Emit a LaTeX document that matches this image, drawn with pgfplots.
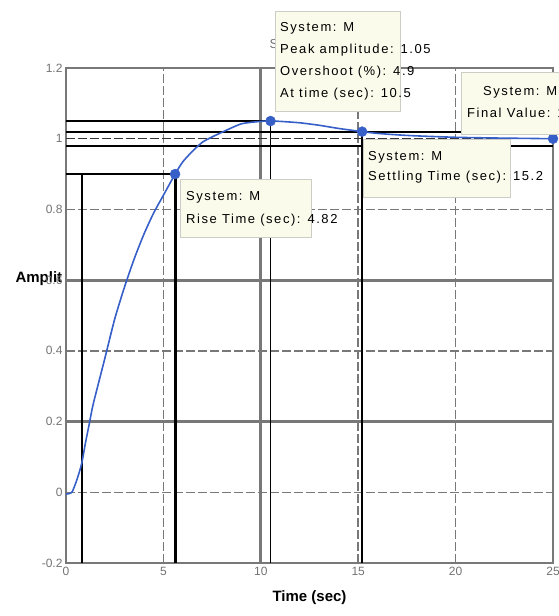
\documentclass[border=0pt]{standalone}
\usepackage{pgfplots}
\pgfplotsset{compat=1.18}
\usepackage{fontspec}
\setmainfont{Liberation Sans}
\newfontfamily\tipfont[LetterSpace=12]{Liberation Sans}
\definecolor{mblue}{RGB}{55,95,200}
\definecolor{tipfill}{RGB}{251,251,236}
\definecolor{tipedge}{RGB}{205,205,200}
\definecolor{gridgray}{RGB}{120,120,120}
\definecolor{ticklab}{RGB}{115,115,115}
\begin{document}
\begin{tikzpicture}
\path[use as bounding box] (-66pt,-53pt) rectangle (492pt,563pt);
% title (mostly hidden behind the data tip)
\node[anchor=west,font=\fontsize{13}{15}\selectfont,text=ticklab] at (200pt,518pt) {Step Response};
% y label, clipped by the axis
\begin{scope}
\clip (-66pt,200pt) rectangle (-4pt,360pt);
\node[anchor=west,font=\fontsize{15}{17}\selectfont\bfseries] at (-54pt,284pt) {Amplitude};
\end{scope}
\begin{axis}[
  at={(0pt,0pt)}, anchor=south west,
  scale only axis, width=487pt, height=495pt,
  xmin=0, xmax=25, ymin=-0.2, ymax=1.2,
  xtick={0,5,10,15,20,25},
  ytick={-0.2,0,0.2,0.4,0.6,0.8,1,1.2},
  yticklabels={-0.2,0,0.2,0.4,0.6,0.8,1,1.2},
  /pgf/number format/assume math mode=true,
  ticklabel style={font=\fontsize{12}{14}\selectfont, text=ticklab},
  xticklabel style={yshift=-1pt},
  major tick length=0pt,
  axis line style={gridgray, line width=2.6pt},
  grid=major,
  major grid style={gridgray, line width=1.5pt, dash pattern=on 9pt off 3pt},
  extra x ticks={10}, extra x tick labels={},
  extra y ticks={0.2,0.6}, extra y tick labels={},
  extra tick style={grid=major, major grid style={gridgray, solid, line width=2.8pt}},
  xlabel={Time (sec)},
  xlabel style={font=\fontsize{15}{17}\selectfont\bfseries, yshift=-8pt},
  clip=false,
]
% characteristic marker lines
\addplot[black, line width=2.6pt] coordinates {(0,0.9) (5.6,0.9)};
\addplot[black, line width=2pt] coordinates {(0.8,0.9) (0.8,-0.2)};
\addplot[black, line width=3pt] coordinates {(5.6,0.9) (5.6,-0.2)};
\addplot[black, line width=2.6pt] coordinates {(0,1.05) (10.5,1.05)};
\addplot[black, line width=1.8pt] coordinates {(10.5,1.05) (10.5,-0.2)};
\addplot[black, line width=2pt] coordinates {(0,1.02) (25,1.02)};
\addplot[black, line width=2pt] coordinates {(0,0.98) (25,0.98)};
\addplot[black!80, line width=1.5pt, dash pattern=on 9pt off 3pt] coordinates {(0,1.0) (25,1.0)};
\addplot[black, line width=2.4pt] coordinates {(15.2,1.02) (15.2,-0.2)};
% step response
\addplot[mblue, line width=1.6pt, smooth, tension=0.4] coordinates {
(0,-0.005) (0.3,0.0) (0.55,0.034) (0.8,0.08) (1.0,0.14) (1.2,0.195) (1.4,0.25)
(2.0,0.38) (2.5,0.49) (3.0,0.58) (3.5,0.66) (4.0,0.73) (4.5,0.79) (5.0,0.84)
(5.6,0.90) (6.0,0.935) (6.5,0.965) (7.0,0.99) (7.5,1.005) (8.0,1.018) (9.0,1.042)
(10.0,1.049) (10.5,1.05) (11.0,1.049) (12.0,1.045) (13.0,1.038) (14.0,1.029)
(15.2,1.02) (16,1.015) (17,1.011) (18,1.008) (20,1.004) (22,1.002) (25,1.0)};
% data tip markers
\addplot[only marks, mark=*, mark size=5pt, mblue] coordinates {
(5.6,0.9) (10.5,1.05) (15.2,1.02) (25,1.0)};
\end{axis}
% data tips: boxes of fixed size, text may run past their right edge
\tikzset{tipbox/.style={draw=tipedge, fill=tipfill, line width=1pt},
  tiptext/.style={anchor=west, inner sep=0pt, font=\tipfont\fontsize{13}{15}\selectfont}}
% peak
\path[tipbox] (209pt,551pt) rectangle (334pt,451pt);
\node[tiptext] at (214pt,535pt) {System: M};
\node[tiptext] at (214pt,513pt) {Peak amplitude: 1.05};
\node[tiptext] at (214pt,491pt) {Overshoot (\%): 4.9};
\node[tiptext] at (214pt,469pt) {At time (sec): 10.5};
% final value
\path[tipbox] (395pt,490pt) rectangle (510pt,428pt);
\node[tiptext] at (417pt,471pt) {System: M};
\node[tiptext] at (401pt,450pt) {Final Value: 1};
% settling time
\path[tipbox] (297pt,423pt) rectangle (444pt,365pt);
\node[tiptext] at (302pt,406pt) {System: M};
\node[tiptext] at (302pt,386pt) {Settling Time (sec): 15.2};
% rise time
\path[tipbox] (114pt,383pt) rectangle (245pt,325pt);
\node[tiptext] at (120pt,366pt) {System: M};
\node[tiptext] at (120pt,343pt) {Rise Time (sec): 4.82};
\end{tikzpicture}
\end{document}
